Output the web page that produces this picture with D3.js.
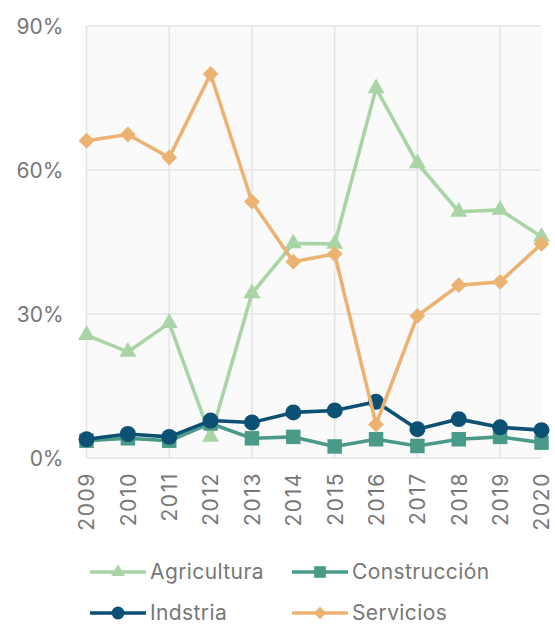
<!DOCTYPE html>
<html><head><meta charset="utf-8">
<script src="https://cdn.jsdelivr.net/npm/d3@7"></script>
<style>html,body{margin:0;padding:0;background:#fff;}svg{display:block;font-family:Inter,"Noto Sans",sans-serif;}</style>
</head><body>
<script>
const years = [2009,2010,2011,2012,2013,2014,2015,2016,2017,2018,2019,2020];
const agricultura = [25.6,22.1,28.1,4.4,34.3,44.7,44.6,77.0,61.4,51.3,51.7,46.1];
const construccion = [3.6,4.1,3.6,7.2,4.1,4.4,2.4,3.9,2.5,3.9,4.4,3.2];
const industria = [3.9,5.0,4.4,7.8,7.4,9.5,9.9,11.7,6.0,8.1,6.4,5.8];
const servicios = [66.1,67.4,62.6,80.0,53.4,40.9,42.5,7.0,29.6,36.0,36.7,44.6];
const yTicks = [0,30,60,90];
const gridYears = [2009,2011,2013,2015,2017,2019];
const seriesNames = ["Agricultura","Construcción","Indstria","Servicios"];

const series = [
  {name:seriesNames[0], values:agricultura, color:"#a9d5a6", shape:"triangle"},
  {name:seriesNames[1], values:construccion, color:"#4a9a89", shape:"square"},
  {name:seriesNames[2], values:industria, color:"#0c5073", shape:"circle"},
  {name:seriesNames[3], values:servicios, color:"#ecb272", shape:"diamond"}
];

const W=555,H=624;
const L=86.5,R=541.5,T=26,B=458;
const svg=d3.select("body").append("svg").attr("width",W).attr("height",H);
const x=d3.scaleLinear().domain([2009,2020]).range([L,R]);
const y=d3.scaleLinear().domain([0,90]).range([B,T]);

svg.append("rect").attr("x",L).attr("y",T).attr("width",R-L).attr("height",B-T).attr("fill","#fafafa");
const grid=svg.append("g").attr("stroke","#e4e4e4").attr("stroke-width",1.5);
yTicks.forEach(t=>grid.append("line").attr("x1",L).attr("x2",R).attr("y1",y(t)).attr("y2",y(t)));
gridYears.forEach(t=>grid.append("line").attr("x1",x(t)).attr("x2",x(t)).attr("y1",T).attr("y2",B));

const txt="#777777";
const ya=svg.append("g").attr("transform",`translate(${L-23},0)`)
  .call(d3.axisLeft(y).tickValues(yTicks).tickSize(0).tickFormat(d=>d+"%"));
ya.select(".domain").remove();
ya.selectAll("text").attr("fill",txt).attr("font-size",21).attr("x",0).attr("dy","0.35em")
  .attr("font-family","Inter,'Noto Sans',sans-serif");

const xa=svg.append("g").attr("transform",`translate(0,${B})`)
  .call(d3.axisBottom(x).tickValues(years).tickSize(0).tickFormat(d3.format("d")));
xa.select(".domain").remove();
xa.selectAll("text").attr("fill",txt).attr("font-size",21).attr("letter-spacing","1.6px")
  .attr("font-family","Inter,'Noto Sans',sans-serif")
  .attr("transform","rotate(-90)").attr("text-anchor","end").attr("x",-14).attr("y",0).attr("dy","0.35em");

const symMap={triangle:d3.symbolTriangle,square:d3.symbolSquare,circle:d3.symbolCircle,diamond:d3.symbolSquare};
const sizeMap={triangle:125,square:210,circle:200,diamond:125};
const rot=s=>s==="diamond"?" rotate(45)":"";
const line=d3.line().x((d,i)=>x(years[i])).y(d=>y(d));
series.forEach(s=>{
  const g=svg.append("g");
  g.append("path").attr("d",line(s.values)).attr("fill","none").attr("stroke",s.color).attr("stroke-width",3.6).attr("stroke-linejoin","round");
  const sym=d3.symbol().type(symMap[s.shape]).size(sizeMap[s.shape]);
  g.selectAll("path.m").data(s.values).enter().append("path").attr("class","m")
    .attr("d",sym).attr("fill",s.color)
    .attr("transform",(d,i)=>`translate(${x(years[i])},${y(d)})${rot(s.shape)}`);
});

const legPos=[[90,572],[292,572],[90,613],[292,613]];
series.forEach((s,i)=>{
  const [lx,ly]=legPos[i];
  const g=svg.append("g").attr("transform",`translate(${lx},${ly})`);
  g.append("line").attr("x1",0).attr("x2",56).attr("y1",0).attr("y2",0).attr("stroke",s.color).attr("stroke-width",3.6);
  g.append("path").attr("d",d3.symbol().type(symMap[s.shape]).size(sizeMap[s.shape]*0.65)()).attr("fill",s.color).attr("transform",`translate(28,0)${rot(s.shape)}`);
  g.append("text").attr("x",60).attr("y",0).attr("dy","0.35em").attr("fill",txt).attr("font-size",21).attr("letter-spacing","0.4px").text(s.name);
});
</script>
</body></html>
